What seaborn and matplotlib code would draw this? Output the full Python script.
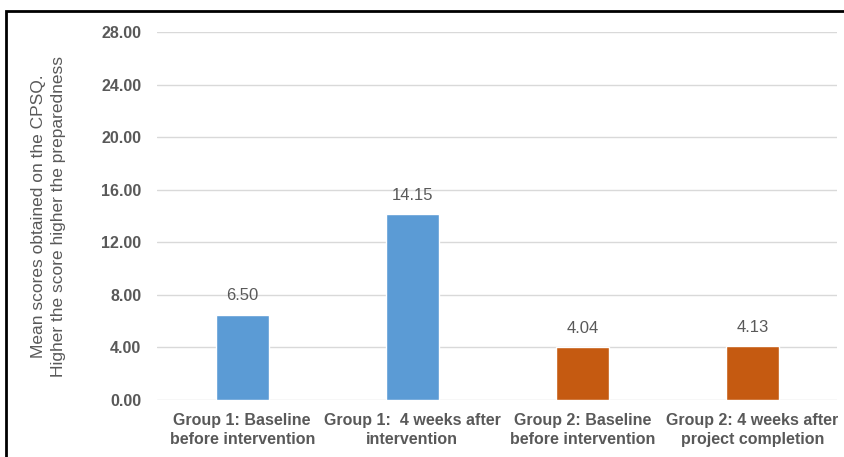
import matplotlib
matplotlib.use("Agg")
import matplotlib.pyplot as plt
import seaborn as sns
import pandas as pd
from matplotlib.patches import Rectangle

# datos
categorias = [
    "Group 1: Baseline\nbefore intervention",
    "Group 1:  4 weeks after\nintervention",
    "Group 2: Baseline\nbefore intervention",
    "Group 2: 4 weeks after\nproject completion",
]
medias = [6.50, 14.15, 4.04, 4.13]
colores = ["#5B9BD5", "#5B9BD5", "#C55A11", "#C55A11"]
ticks_y = [0, 4, 8, 12, 16, 20, 24, 28]

df = pd.DataFrame({"grupo": categorias, "media": medias})

sns.set_style("white")
plt.rcParams["font.family"] = ["Liberation Sans", "DejaVu Sans"]

fig = plt.figure(figsize=(8.45, 4.57), dpi=100)
ax = fig.add_axes([0.186, 0.1247, 0.805, 0.8053])

sns.barplot(data=df, x="grupo", y="media", hue="grupo", palette=colores,
            legend=False, width=0.31, saturation=1, ax=ax)

ax.set_ylim(0, 28)
ax.set_yticks(ticks_y)
ax.set_yticklabels([f"{t:.2f}" for t in ticks_y], fontsize=11.5,
                   fontweight="bold", color="#595959")
ax.tick_params(axis="both", length=0)
ax.tick_params(axis="y", pad=11.5)
ax.tick_params(axis="x", pad=9)
for lab in ax.get_xticklabels():
    lab.set_fontweight("bold")
    lab.set_fontsize(11.5)
    lab.set_color("#595959")
    lab.set_linespacing(1.35)

ax.yaxis.grid(True, color="#d9d9d9", linewidth=1)
ax.set_axisbelow(True)
for s in ax.spines.values():
    s.set_visible(False)

ax.set_xlabel("")
ax.set_ylabel("Mean scores obtained on the CPSQ.\nHigher the score higher the preparedness",
              fontsize=12.5, color="#595959", labelpad=25, linespacing=1.4)

# etiquetas de valor
for i, v in enumerate(medias):
    ax.annotate(f"{v:.2f}", (i, v), xytext=(0, 8), textcoords="offset points",
                ha="center", va="bottom", fontsize=12, color="#595959")

# marco del grafico (cortado a la derecha y abajo)
fig.patches.append(Rectangle((6 / 845, -0.2), 1.1, 1 - 11 / 457 + 0.2,
                             transform=fig.transFigure, fill=False,
                             edgecolor="black", linewidth=2))

fig.savefig("out.png", dpi=100)
